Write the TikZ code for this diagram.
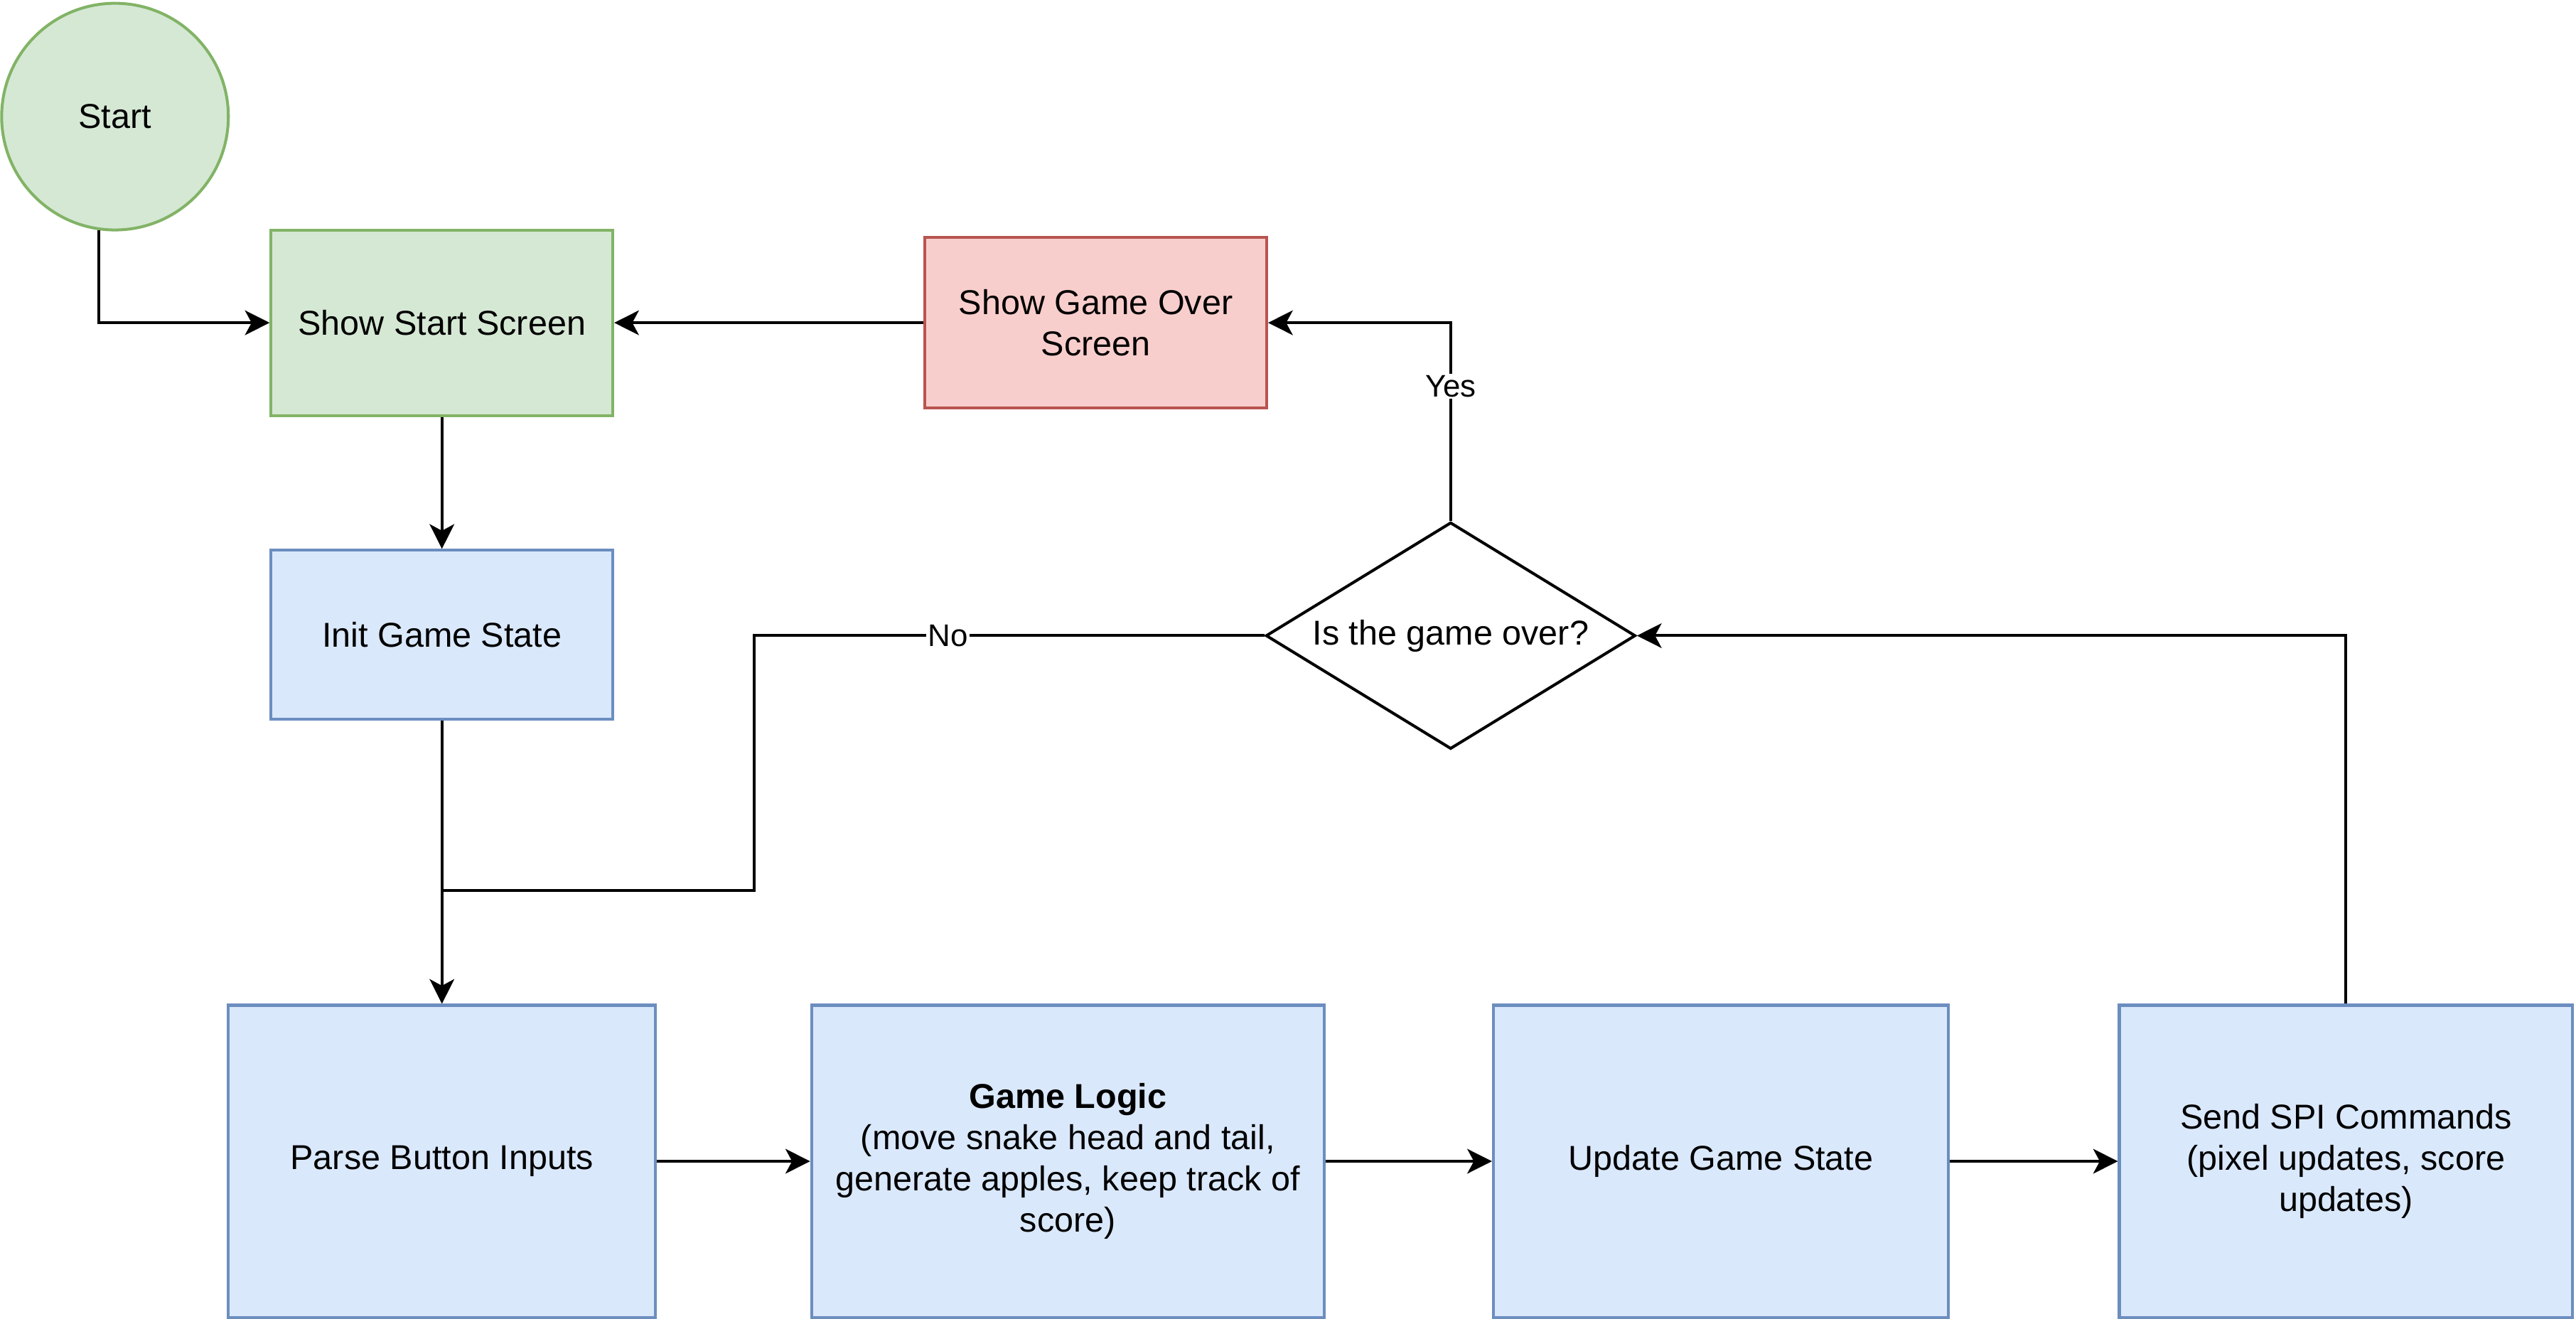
\documentclass[tikz,border=0pt]{standalone}
\usepackage{fontspec}
\setmainfont{Liberation Sans}
\usetikzlibrary{shapes.geometric,arrows.meta}

\definecolor{greenfill}{HTML}{D5E8D4}
\definecolor{greenline}{HTML}{82B366}
\definecolor{redfill}{HTML}{F8CECC}
\definecolor{redline}{HTML}{B85450}
\definecolor{bluefill}{HTML}{DAE8FC}
\definecolor{blueline}{HTML}{6C8EBF}

\tikzset{
  box/.style={rectangle, draw=blueline, fill=bluefill, line width=1.75pt,
    inner sep=0pt, align=center, font=\fontsize{21}{25.2}\selectfont},
  greenbox/.style={box, draw=greenline, fill=greenfill},
  redbox/.style={box, draw=redline, fill=redfill},
  arr/.style={line width=1.75pt, -{Stealth[length=15pt,width=15pt,inset=4pt]}},
  lbl/.style={fill=white, inner sep=1pt, font=\fontsize{19}{22}\selectfont}
}

\begin{document}
\begin{tikzpicture}[x=1pt, y=-1pt]
    \useasboundingbox (0,0) rectangle (1568,803);
    \node[greenbox, circle, minimum size=138pt] (start) at (70,71) {Start};
    \node[greenbox, minimum width=208pt, minimum height=113pt] (show) at (269,196.5) {Show Start Screen};
    \node[redbox, minimum width=208pt, minimum height=104pt] (gameover) at (667,196.5) {Show Game Over\\Screen};
    \node[box, minimum width=208pt, minimum height=103pt] (init) at (269,386.5) {Init Game State};
    \node[diamond, draw, line width=1.75pt, aspect=1.63, inner sep=0pt,
      minimum width=225pt, minimum height=138pt, font=\fontsize{21}{25.2}\selectfont]
      (over) at (883,387) {Is the game over?};
    \node[box, minimum width=260pt, minimum height=190pt] (parse) at (269,707) {Parse Button Inputs};
    \node[box, minimum width=312pt, minimum height=190pt] (logic) at (650,707)
      {\textbf{Game Logic}\\(move snake head and tail,\\generate apples, keep track of\\score)};
    \node[box, minimum width=277pt, minimum height=190pt] (update) at (1047.5,707) {Update Game State};
    \node[box, minimum width=276pt, minimum height=190pt] (spi) at (1428,707)
      {Send SPI Commands\\(pixel updates, score\\updates)};
    \coordinate (noturn) at (459,542);
    \coordinate (merge) at (269,542);

    \draw[arr] (start.262) |- (show.west);
    \draw[arr] (gameover.west) -- (show.east);
    \draw[arr] (over.north) |- node[lbl, pos=0.34] {Yes} (gameover.east);
    \draw[arr] (show.south) -- (init.north);
    \draw[arr] (init.south) -- (parse.north);
    \draw[line width=1.75pt] (over.west) -| node[lbl, pos=0.31] {No} (noturn) -- (merge);
    \draw[arr] (parse.east) -- (logic.west);
    \draw[arr] (logic.east) -- (update.west);
    \draw[arr] (update.east) -- (spi.west);
    \draw[arr] (spi.north) |- (over.east);
  \end{tikzpicture}
\end{document}
